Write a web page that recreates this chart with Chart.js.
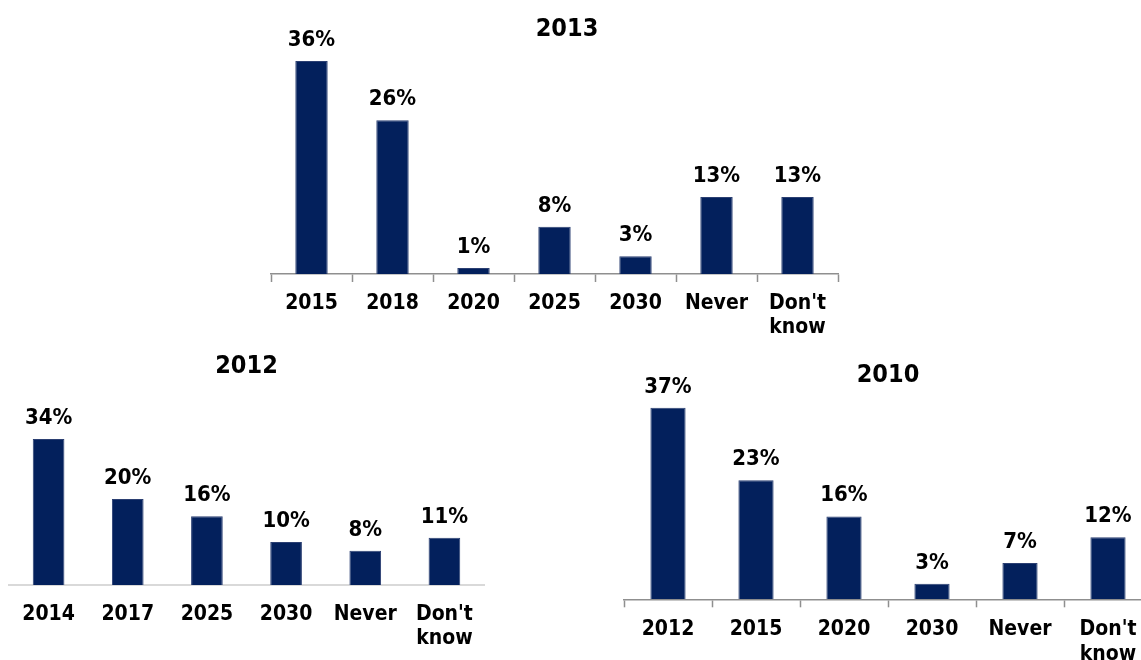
<!DOCTYPE html>
<html>
<head>
<meta charset="utf-8">
<title>Expected year of adoption</title>
<script src="https://cdn.jsdelivr.net/npm/chart.js@4.4.1/dist/chart.umd.min.js"></script>
<style>
  html, body { margin: 0; padding: 0; background: #ffffff; overflow: hidden; }
  body { width: 1141px; height: 660px; position: relative; }
  canvas { position: absolute; }
  #c2013 { left: 240px; top: 0px; }
  #c2012 { left: 0px; top: 340px; }
  #c2010 { left: 610px; top: 340px; }
</style>
</head>
<body>
<canvas id="c2013" width="654" height="340"></canvas>
<canvas id="c2012" width="495" height="320"></canvas>
<canvas id="c2010" width="556" height="320"></canvas>
<script>
// Survey answers, one panel per survey year
const categories2013 = ['2015', '2018', '2020', '2025', '2030', 'Never', "Don't know"];
const values2013 = [36, 26, 1, 8, 3, 13, 13];

const categories2012 = ['2014', '2017', '2025', '2030', 'Never', "Don't know"];
const values2012 = [34, 20, 16, 10, 8, 11];

const categories2010 = ['2012', '2015', '2020', '2030', 'Never', "Don't know"];
const values2010 = [37, 23, 16, 3, 7, 12];

const FONT_FAMILY = '"DejaVu Sans Condensed", "DejaVu Sans", sans-serif';
const BAR_COLOR = '#03205c';
const BAR_EDGE = '#2b3f72';

Chart.defaults.font.family = FONT_FAMILY;
Chart.defaults.font.weight = 'bold';
Chart.defaults.color = '#000000';

// Two-word answers wrap onto two lines under the axis
function wrapLabel(label) {
  return label.includes(' ') ? label.split(' ') : label;
}

// Percentage printed above every bar
const valueLabels = {
  id: 'valueLabels',
  afterDatasetsDraw(chart) {
    const ctx = chart.ctx;
    const meta = chart.getDatasetMeta(0);
    const values = chart.data.datasets[0].data;
    ctx.save();
    ctx.font = 'bold 22px ' + FONT_FAMILY;
    ctx.fillStyle = '#000000';
    ctx.textAlign = 'center';
    ctx.textBaseline = 'alphabetic';
    meta.data.forEach((bar, i) => {
      ctx.fillText(values[i] + '%', bar.x, bar.y - 15);
    });
    ctx.restore();
  }
};

function buildChart(id, title, categories, values, cfg) {
  return new Chart(document.getElementById(id), {
    type: 'bar',
    data: {
      labels: categories.map(wrapLabel),
      datasets: [{
        data: values,
        backgroundColor: BAR_COLOR,
        borderColor: BAR_EDGE,
        borderWidth: 1,
        categoryPercentage: 1,
        barPercentage: 0.4
      }]
    },
    options: {
      responsive: false,
      animation: false,
      devicePixelRatio: 1,
      layout: { padding: { left: cfg.padLeft, right: cfg.padRight, top: 0, bottom: 0 } },
      plugins: {
        legend: { display: false },
        tooltip: { enabled: false },
        title: {
          display: true,
          text: title,
          color: '#000000',
          font: { size: 25, weight: 'bold', family: FONT_FAMILY, lineHeight: 1.2 },
          padding: { top: cfg.titleTop, bottom: cfg.titleBottom }
        }
      },
      scales: {
        x: {
          offset: true,
          grid: {
            display: true,
            drawOnChartArea: false,
            offset: true,
            tickLength: 8,
            tickWidth: 1.5,
            tickColor: cfg.tickColor
          },
          border: { display: true, color: cfg.axisColor, width: cfg.axisWidth },
          ticks: {
            autoSkip: false,
            maxRotation: 0,
            padding: cfg.labelPad,
            color: '#000000',
            font: { size: 21, weight: 'bold', family: FONT_FAMILY, lineHeight: 1.17 }
          },
          afterFit: (scale) => { scale.height = cfg.axisHeight; }
        },
        y: {
          min: 0,
          max: cfg.max,
          display: cfg.gutter > 0,
          position: 'right',
          ticks: { display: false },
          grid: { display: false },
          border: { display: false },
          afterFit: (scale) => { scale.width = cfg.gutter; }
        }
      }
    },
    plugins: [valueLabels]
  });
}

buildChart('c2013', '2013', categories2013, values2013, {
  padLeft: 31, padRight: 31, gutter: 25,
  titleTop: 14, titleBottom: 5.2, max: 38, axisHeight: 66, labelPad: 9,
  axisColor: '#8f8f8f', tickColor: '#8f8f8f', axisWidth: 1.5
});

buildChart('c2012', '2012', categories2012, values2012, {
  padLeft: 9, padRight: 11, gutter: 0,
  titleTop: 11, titleBottom: 32.2, max: 40, axisHeight: 75, labelPad: 9,
  axisColor: '#d9d9d9', tickColor: 'rgba(0,0,0,0)', axisWidth: 2
});

buildChart('c2010', '2010', categories2010, values2010, {
  padLeft: 14, padRight: 14, gutter: 0,
  titleTop: 20, titleBottom: 2.2, max: 40, axisHeight: 60.7, labelPad: 10,
  axisColor: '#8f8f8f', tickColor: '#8f8f8f', axisWidth: 1.5
});
</script>
</body>
</html>
